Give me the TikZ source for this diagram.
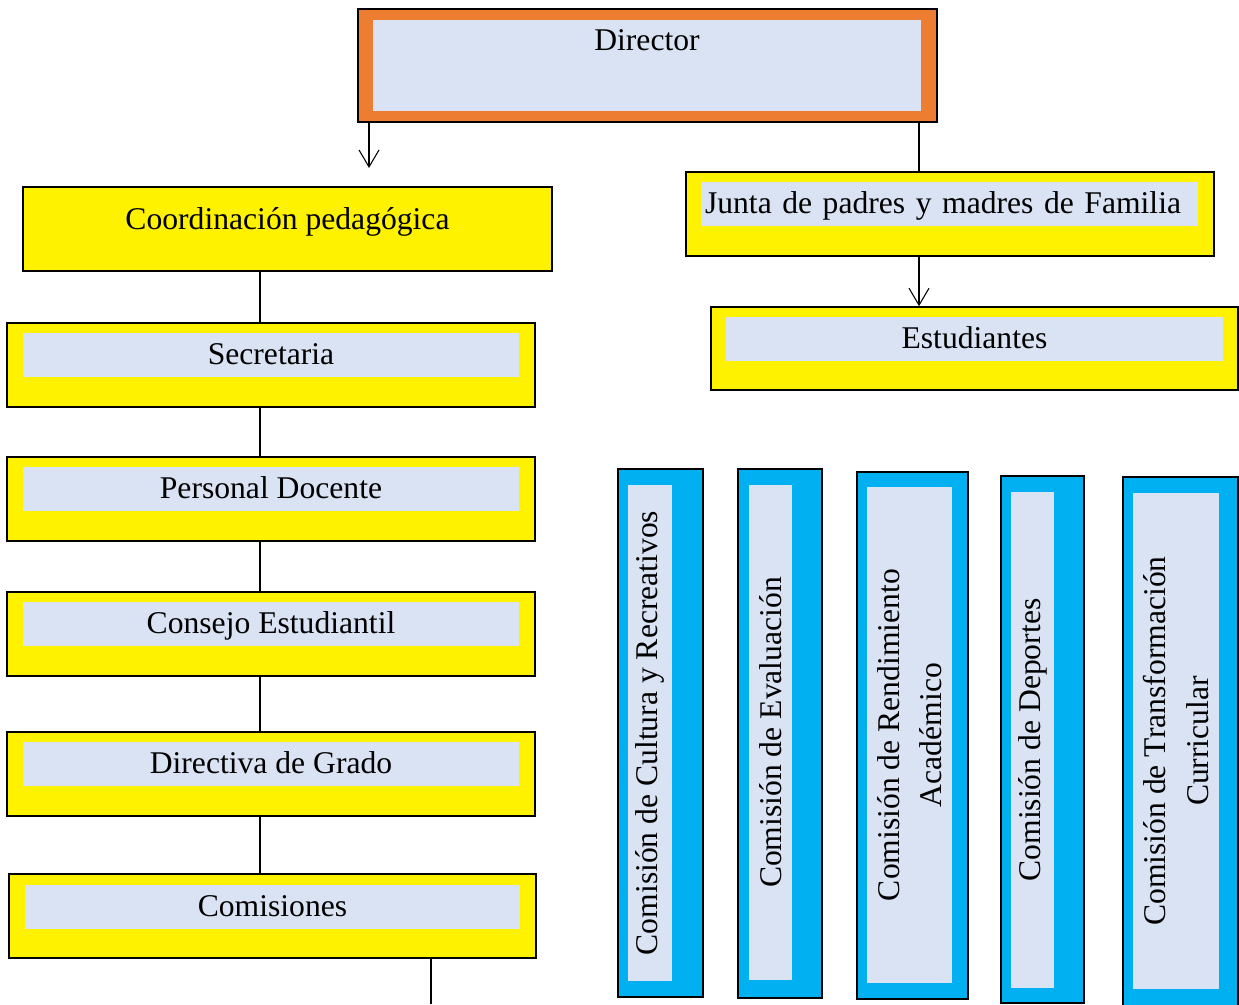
\documentclass[tikz,border=0pt]{standalone}
\usepackage{fontspec}
\setmainfont{Liberation Serif}
\usepackage{xcolor}
\usepackage{tikz}
\usetikzlibrary{positioning,arrows.meta,calc}
\definecolor{dirorange}{HTML}{ED7D31}
\definecolor{paleblue}{HTML}{DAE3F3}
\definecolor{comcyan}{HTML}{00B0F0}
\tikzset{
    outer/.style={rectangle, draw, line width=0.9pt, inner sep=0pt},
    dirbox/.style={outer, fill=dirorange},
    ylwbox/.style={outer, fill=yellow},
    cyanbox/.style={outer, fill=comcyan},
    strip/.style={rectangle, fill=paleblue, inner ysep=0pt, inner xsep=0.08cm, text height=0.62cm, text depth=0.26cm, anchor=base},
    vstrip/.style={rectangle, fill=paleblue, inner sep=0pt, rotate=90, align=center},
    line/.style={draw, line width=0.6pt},
    arr/.style={line, -{Straight Barb[length=0.34cm, width=0.4cm]}}
}

\begin{document}
\begin{tikzpicture}[x=0.02cm, y=-0.02cm, font=\fontsize{18}{24}\selectfont]
    \useasboundingbox (0,0) rectangle (1239,1004);

    % Director
    \node [dirbox, minimum width=11.58cm, minimum height=2.26cm] (dir) at (647.5,65.5) {};
    \node [strip, minimum width=10.96cm, text height=0.60cm, text depth=1.22cm] (dirin) at (647,50) {Director};

    % Left column
    \node [ylwbox, anchor=base, inner ysep=0pt, minimum width=10.58cm, text height=0.84cm, text depth=0.84cm] (coord) at (287.5,229) {Coordinación pedagógica};
    \node [ylwbox, minimum width=10.56cm, minimum height=1.68cm] (sec) at (271,365) {};
    \node [strip, minimum width=9.92cm] (secin) at (271,364) {Secretaria};
    \node [ylwbox, minimum width=10.56cm, minimum height=1.68cm] (pers) at (271,499) {};
    \node [strip, minimum width=9.92cm] (persin) at (271,498) {Personal Docente};
    \node [ylwbox, minimum width=10.56cm, minimum height=1.68cm] (cons) at (271,634) {};
    \node [strip, minimum width=9.92cm] (consin) at (271,633) {Consejo Estudiantil};
    \node [ylwbox, minimum width=10.56cm, minimum height=1.68cm] (dirg) at (271,774) {};
    \node [strip, minimum width=9.92cm] (dirgin) at (271,773) {Directiva de Grado};
    \node [ylwbox, minimum width=10.54cm, minimum height=1.68cm] (comi) at (272.5,916) {};
    \node [strip, minimum width=9.90cm] (comiin) at (272.5,916) {Comisiones};

    % Right column
    \node [ylwbox, minimum width=10.56cm, minimum height=1.68cm] (junta) at (950,214) {};
    \node [strip, text width=9.78cm, align=left] (juntain) at (949.5,213) {Junta de padres y madres de Familia};
    \node [ylwbox, minimum width=10.54cm, minimum height=1.66cm] (estu) at (974.5,348.5) {};
    \node [strip, minimum width=9.94cm] (estuin) at (974.5,348) {Estudiantes};

    % Comisiones
    \node [cyanbox, minimum width=1.70cm, minimum height=10.56cm] (cult) at (660.5,733) {};
    \node [vstrip, minimum width=9.92cm, minimum height=0.88cm] (cultin) at (650,733) {Comisión de Cultura y Recreativos};
    \node [cyanbox, minimum width=1.68cm, minimum height=10.58cm] (eval) at (780,733.5) {};
    \node [vstrip, minimum width=9.90cm, minimum height=0.86cm] (evalin) at (770.5,732.5) {Comisión de Evaluación};
    \node [cyanbox, minimum width=2.22cm, minimum height=10.54cm] (rend) at (912.5,735.5) {};
    \node [vstrip, minimum width=9.92cm, minimum height=1.70cm] (rendin) at (909.5,735) {Comisión de Rendimiento\\Académico};
    \node [cyanbox, minimum width=1.66cm, minimum height=10.54cm] (depo) at (1042.5,739.5) {};
    \node [vstrip, minimum width=9.92cm, minimum height=0.86cm] (depoin) at (1032.5,740) {Comisión de Deportes};
    \node [cyanbox, minimum width=2.30cm, minimum height=10.58cm] (trans) at (1180.5,741.5) {};
    \node [vstrip, minimum width=9.92cm, minimum height=1.72cm] (transin) at (1176,741) {Comisión de Transformación\\Curricular};

    % Connectors
    \coordinate (lspine) at (260,0);
    \coordinate (rspine) at (919,0);
    \coordinate (dirtip) at (369,168);
    \coordinate (tail) at (431,1004);
    \path [arr] (dir.south -| dirtip) -- (dirtip);
    \path [line] (dir.south -| rspine) -- (junta.north -| rspine);
    \path [arr] (junta.south -| rspine) -- (estu.north -| rspine);
    \path [line] (coord.south -| lspine) -- (sec.north -| lspine);
    \path [line] (sec.south -| lspine) -- (pers.north -| lspine);
    \path [line] (pers.south -| lspine) -- (cons.north -| lspine);
    \path [line] (cons.south -| lspine) -- (dirg.north -| lspine);
    \path [line] (dirg.south -| lspine) -- (comi.north -| lspine);
    \path [line] (comi.south -| lspine) -- (tail |- comi.south) -- (tail);
\end{tikzpicture}
\end{document}
